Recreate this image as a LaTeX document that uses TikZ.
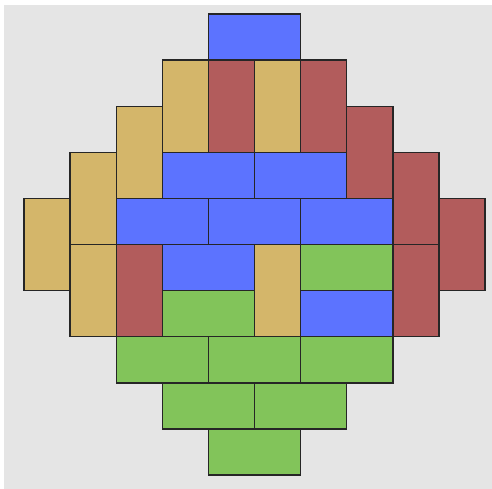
\documentclass[tikz,border=0pt]{standalone}
\definecolor{domblue}{HTML}{5C73FF}
\definecolor{domred}{HTML}{B25C5C}
\definecolor{domyellow}{HTML}{D4B66A}
\definecolor{domgreen}{HTML}{82C45A}
\definecolor{bggray}{HTML}{E5E5E5}
\tikzset{
  dom/.style={draw=black!85, line width=.85pt},
  bdom/.style={dom, fill=domblue},
  rdom/.style={dom, fill=domred},
  ydom/.style={dom, fill=domyellow},
  gdom/.style={dom, fill=domgreen}
}
\begin{document}
\begin{tikzpicture}[x=1cm,y=1cm]
    \useasboundingbox (-0.52, 0.304) rectangle (10.15, -10.30);
    \fill[bggray] (-0.434, 0.195) rectangle (10.15, -10.30);
    % top half
    \draw[bdom] (4, 0) rectangle ++(2, -1);
    \draw[ydom] (3, -1) rectangle ++(1, -2);
    \draw[rdom] (4, -1) rectangle ++(1, -2);
    \draw[ydom] (5, -1) rectangle ++(1, -2);
    \draw[rdom] (6, -1) rectangle ++(1, -2);
    \draw[ydom] (2, -2) rectangle ++(1, -2);
    \draw[rdom] (7, -2) rectangle ++(1, -2);
    \draw[ydom] (1, -3) rectangle ++(1, -2);
    \draw[bdom] (3, -3) rectangle ++(2, -1);
    \draw[bdom] (5, -3) rectangle ++(2, -1);
    \draw[rdom] (8, -3) rectangle ++(1, -2);
    \draw[ydom] (0, -4) rectangle ++(1, -2);
    \draw[bdom] (2, -4) rectangle ++(2, -1);
    \draw[bdom] (4, -4) rectangle ++(2, -1);
    \draw[bdom] (6, -4) rectangle ++(2, -1);
    \draw[rdom] (9, -4) rectangle ++(1, -2);
    % bottom half
    \draw[ydom] (1, -5) rectangle ++(1, -2);
    \draw[rdom] (2, -5) rectangle ++(1, -2);
    \draw[bdom] (3, -5) rectangle ++(2, -1);
    \draw[ydom] (5, -5) rectangle ++(1, -2);
    \draw[gdom] (6, -5) rectangle ++(2, -1);
    \draw[rdom] (8, -5) rectangle ++(1, -2);
    \draw[gdom] (3, -6) rectangle ++(2, -1);
    \draw[bdom] (6, -6) rectangle ++(2, -1);
    \draw[gdom] (2, -7) rectangle ++(2, -1);
    \draw[gdom] (4, -7) rectangle ++(2, -1);
    \draw[gdom] (6, -7) rectangle ++(2, -1);
    \draw[gdom] (3, -8) rectangle ++(2, -1);
    \draw[gdom] (5, -8) rectangle ++(2, -1);
    \draw[gdom] (4, -9) rectangle ++(2, -1);
\end{tikzpicture}
\end{document}
